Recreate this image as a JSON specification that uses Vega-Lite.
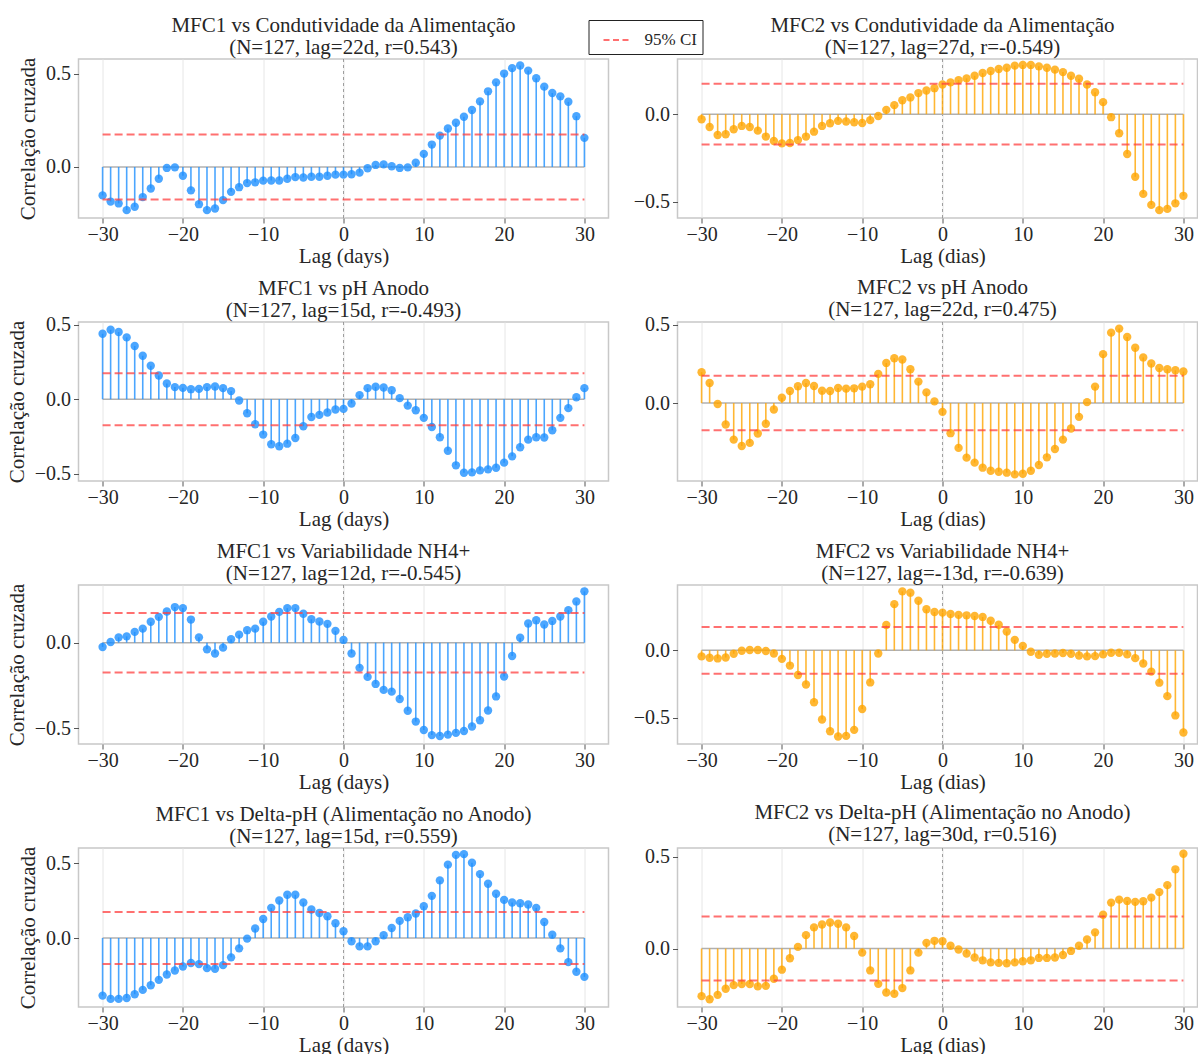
{
  "$schema": "https://vega.github.io/schema/vega-lite/v6.json",
  "padding": {"left": 4.5, "top": 14, "right": 0, "bottom": 0},
  "background": "white",
  "config": {
    "font": "Liberation Serif",
    "view": {"stroke": "#c8c8c8", "strokeWidth": 1.5},
    "axis": {
      "domain": false,
      "labelFont": "Liberation Serif",
      "labelFontSize": 20,
      "labelColor": "#262626",
      "titleFont": "Liberation Serif",
      "titleFontSize": 21,
      "titleFontWeight": "normal",
      "titleColor": "#262626",
      "tickColor": "#555555",
      "tickSize": 5,
      "grid": false
    },
    "axisX": {"grid": true, "gridColor": "#e6e6e6", "gridWidth": 1, "labelPadding": 1, "titlePadding": 1},
    "axisY": {"labelPadding": 3, "titlePadding": 7},
    "title": {"font": "Liberation Serif", "fontSize": 21, "fontWeight": "normal", "color": "#262626", "anchor": "middle", "offset": 0, "lineHeight": 22}
  },
  "datasets": {
    "base": [{"lo": -30, "hi": 30}],
    "bounds": [{"ci": 0.1739}, {"ci": -0.1739}],
    "ccf": [
      {"lag": -30, "mfc1_cond": -0.152, "mfc2_cond": -0.029, "mfc1_ph": 0.438, "mfc2_ph": 0.197, "mfc1_nh4": -0.025, "mfc2_nh4": -0.045, "mfc1_dph": -0.384, "mfc2_dph": -0.259},
      {"lag": -29, "mfc1_cond": -0.185, "mfc2_cond": -0.073, "mfc1_ph": 0.465, "mfc2_ph": 0.128, "mfc1_nh4": 0.004, "mfc2_nh4": -0.055, "mfc1_dph": -0.406, "mfc2_dph": -0.276},
      {"lag": -28, "mfc1_cond": -0.195, "mfc2_cond": -0.119, "mfc1_ph": 0.450, "mfc2_ph": -0.006, "mfc1_nh4": 0.031, "mfc2_nh4": -0.060, "mfc1_dph": -0.406, "mfc2_dph": -0.252},
      {"lag": -27, "mfc1_cond": -0.231, "mfc2_cond": -0.115, "mfc1_ph": 0.414, "mfc2_ph": -0.137, "mfc1_nh4": 0.037, "mfc2_nh4": -0.053, "mfc1_dph": -0.400, "mfc2_dph": -0.219},
      {"lag": -26, "mfc1_cond": -0.213, "mfc2_cond": -0.086, "mfc1_ph": 0.356, "mfc2_ph": -0.233, "mfc1_nh4": 0.063, "mfc2_nh4": -0.025, "mfc1_dph": -0.375, "mfc2_dph": -0.199},
      {"lag": -25, "mfc1_cond": -0.161, "mfc2_cond": -0.067, "mfc1_ph": 0.291, "mfc2_ph": -0.274, "mfc1_nh4": 0.082, "mfc2_nh4": -0.003, "mfc1_dph": -0.346, "mfc2_dph": -0.193},
      {"lag": -24, "mfc1_cond": -0.115, "mfc2_cond": -0.073, "mfc1_ph": 0.224, "mfc2_ph": -0.254, "mfc1_nh4": 0.122, "mfc2_nh4": 0.003, "mfc1_dph": -0.315, "mfc2_dph": -0.193},
      {"lag": -23, "mfc1_cond": -0.063, "mfc2_cond": -0.094, "mfc1_ph": 0.159, "mfc2_ph": -0.194, "mfc1_nh4": 0.151, "mfc2_nh4": 0.003, "mfc1_dph": -0.279, "mfc2_dph": -0.206},
      {"lag": -22, "mfc1_cond": -0.005, "mfc2_cond": -0.128, "mfc1_ph": 0.105, "mfc2_ph": -0.132, "mfc1_nh4": 0.182, "mfc2_nh4": -0.005, "mfc1_dph": -0.243, "mfc2_dph": -0.203},
      {"lag": -21, "mfc1_cond": -0.002, "mfc2_cond": -0.153, "mfc1_ph": 0.081, "mfc2_ph": -0.041, "mfc1_nh4": 0.208, "mfc2_nh4": -0.023, "mfc1_dph": -0.217, "mfc2_dph": -0.164},
      {"lag": -20, "mfc1_cond": -0.047, "mfc2_cond": -0.167, "mfc1_ph": 0.076, "mfc2_ph": 0.034, "mfc1_nh4": 0.202, "mfc2_nh4": -0.063, "mfc1_dph": -0.190, "mfc2_dph": -0.115},
      {"lag": -19, "mfc1_cond": -0.125, "mfc2_cond": -0.165, "mfc1_ph": 0.067, "mfc2_ph": 0.077, "mfc1_nh4": 0.135, "mfc2_nh4": -0.113, "mfc1_dph": -0.167, "mfc2_dph": -0.053},
      {"lag": -18, "mfc1_cond": -0.199, "mfc2_cond": -0.148, "mfc1_ph": 0.069, "mfc2_ph": 0.107, "mfc1_nh4": 0.031, "mfc2_nh4": -0.183, "mfc1_dph": -0.174, "mfc2_dph": 0.009},
      {"lag": -17, "mfc1_cond": -0.231, "mfc2_cond": -0.128, "mfc1_ph": 0.081, "mfc2_ph": 0.128, "mfc1_nh4": -0.039, "mfc2_nh4": -0.253, "mfc1_dph": -0.201, "mfc2_dph": 0.073},
      {"lag": -16, "mfc1_cond": -0.222, "mfc2_cond": -0.100, "mfc1_ph": 0.085, "mfc2_ph": 0.109, "mfc1_nh4": -0.063, "mfc2_nh4": -0.385, "mfc1_dph": -0.205, "mfc2_dph": 0.115},
      {"lag": -15, "mfc1_cond": -0.177, "mfc2_cond": -0.067, "mfc1_ph": 0.074, "mfc2_ph": 0.079, "mfc1_nh4": -0.029, "mfc2_nh4": -0.513, "mfc1_dph": -0.181, "mfc2_dph": 0.131},
      {"lag": -14, "mfc1_cond": -0.133, "mfc2_cond": -0.052, "mfc1_ph": 0.054, "mfc2_ph": 0.077, "mfc1_nh4": 0.020, "mfc2_nh4": -0.600, "mfc1_dph": -0.129, "mfc2_dph": 0.142},
      {"lag": -13, "mfc1_cond": -0.108, "mfc2_cond": -0.038, "mfc1_ph": -0.009, "mfc2_ph": 0.096, "mfc1_nh4": 0.047, "mfc2_nh4": -0.639, "mfc1_dph": -0.069, "mfc2_dph": 0.135},
      {"lag": -12, "mfc1_cond": -0.086, "mfc2_cond": -0.042, "mfc1_ph": -0.094, "mfc2_ph": 0.092, "mfc1_nh4": 0.073, "mfc2_nh4": -0.635, "mfc1_dph": -0.004, "mfc2_dph": 0.115},
      {"lag": -11, "mfc1_cond": -0.082, "mfc2_cond": -0.046, "mfc1_ph": -0.168, "mfc2_ph": 0.094, "mfc1_nh4": 0.082, "mfc2_nh4": -0.590, "mfc1_dph": 0.063, "mfc2_dph": 0.068},
      {"lag": -10, "mfc1_cond": -0.073, "mfc2_cond": -0.050, "mfc1_ph": -0.237, "mfc2_ph": 0.105, "mfc1_nh4": 0.122, "mfc2_nh4": -0.435, "mfc1_dph": 0.127, "mfc2_dph": -0.022},
      {"lag": -9, "mfc1_cond": -0.072, "mfc2_cond": -0.034, "mfc1_ph": -0.302, "mfc2_ph": 0.120, "mfc1_nh4": 0.153, "mfc2_nh4": -0.238, "mfc1_dph": 0.201, "mfc2_dph": -0.119},
      {"lag": -8, "mfc1_cond": -0.072, "mfc2_cond": -0.010, "mfc1_ph": -0.315, "mfc2_ph": 0.186, "mfc1_nh4": 0.180, "mfc2_nh4": -0.023, "mfc1_dph": 0.250, "mfc2_dph": -0.192},
      {"lag": -7, "mfc1_cond": -0.063, "mfc2_cond": 0.025, "mfc1_ph": -0.298, "mfc2_ph": 0.256, "mfc1_nh4": 0.202, "mfc2_nh4": 0.188, "mfc1_dph": 0.288, "mfc2_dph": -0.239},
      {"lag": -6, "mfc1_cond": -0.054, "mfc2_cond": 0.052, "mfc1_ph": -0.260, "mfc2_ph": 0.286, "mfc1_nh4": 0.202, "mfc2_nh4": 0.343, "mfc1_dph": 0.288, "mfc2_dph": -0.246},
      {"lag": -5, "mfc1_cond": -0.056, "mfc2_cond": 0.080, "mfc1_ph": -0.181, "mfc2_ph": 0.278, "mfc1_nh4": 0.169, "mfc2_nh4": 0.438, "mfc1_dph": 0.237, "mfc2_dph": -0.215},
      {"lag": -4, "mfc1_cond": -0.052, "mfc2_cond": 0.096, "mfc1_ph": -0.119, "mfc2_ph": 0.216, "mfc1_nh4": 0.137, "mfc2_nh4": 0.428, "mfc1_dph": 0.190, "mfc2_dph": -0.119},
      {"lag": -3, "mfc1_cond": -0.052, "mfc2_cond": 0.121, "mfc1_ph": -0.105, "mfc2_ph": 0.137, "mfc1_nh4": 0.124, "mfc2_nh4": 0.368, "mfc1_dph": 0.167, "mfc2_dph": -0.022},
      {"lag": -2, "mfc1_cond": -0.047, "mfc2_cond": 0.136, "mfc1_ph": -0.089, "mfc2_ph": 0.068, "mfc1_nh4": 0.110, "mfc2_nh4": 0.305, "mfc1_dph": 0.145, "mfc2_dph": 0.031},
      {"lag": -1, "mfc1_cond": -0.041, "mfc2_cond": 0.149, "mfc1_ph": -0.069, "mfc2_ph": 0.011, "mfc1_nh4": 0.069, "mfc2_nh4": 0.285, "mfc1_dph": 0.098, "mfc2_dph": 0.042},
      {"lag": 0, "mfc1_cond": -0.041, "mfc2_cond": 0.170, "mfc1_ph": -0.065, "mfc2_ph": -0.056, "mfc1_nh4": 0.016, "mfc2_nh4": 0.280, "mfc1_dph": 0.045, "mfc2_dph": 0.040},
      {"lag": 1, "mfc1_cond": -0.039, "mfc2_cond": 0.182, "mfc1_ph": -0.029, "mfc2_ph": -0.192, "mfc1_nh4": -0.063, "mfc2_nh4": 0.270, "mfc1_dph": -0.022, "mfc2_dph": 0.015},
      {"lag": 2, "mfc1_cond": -0.030, "mfc2_cond": 0.195, "mfc1_ph": 0.027, "mfc2_ph": -0.286, "mfc1_nh4": -0.147, "mfc2_nh4": 0.263, "mfc1_dph": -0.056, "mfc2_dph": -0.005},
      {"lag": 3, "mfc1_cond": -0.007, "mfc2_cond": 0.205, "mfc1_ph": 0.074, "mfc2_ph": -0.348, "mfc1_nh4": -0.200, "mfc2_nh4": 0.260, "mfc1_dph": -0.056, "mfc2_dph": -0.027},
      {"lag": 4, "mfc1_cond": 0.011, "mfc2_cond": 0.220, "mfc1_ph": 0.083, "mfc2_ph": -0.380, "mfc1_nh4": -0.241, "mfc2_nh4": 0.255, "mfc1_dph": -0.022, "mfc2_dph": -0.049},
      {"lag": 5, "mfc1_cond": 0.014, "mfc2_cond": 0.236, "mfc1_ph": 0.078, "mfc2_ph": -0.412, "mfc1_nh4": -0.276, "mfc2_nh4": 0.248, "mfc1_dph": 0.018, "mfc2_dph": -0.064},
      {"lag": 6, "mfc1_cond": 0.004, "mfc2_cond": 0.247, "mfc1_ph": 0.060, "mfc2_ph": -0.432, "mfc1_nh4": -0.286, "mfc2_nh4": 0.220, "mfc1_dph": 0.067, "mfc2_dph": -0.075},
      {"lag": 7, "mfc1_cond": -0.005, "mfc2_cond": 0.259, "mfc1_ph": 0.007, "mfc2_ph": -0.438, "mfc1_nh4": -0.329, "mfc2_nh4": 0.190, "mfc1_dph": 0.114, "mfc2_dph": -0.078},
      {"lag": 8, "mfc1_cond": -0.002, "mfc2_cond": 0.266, "mfc1_ph": -0.043, "mfc2_ph": -0.444, "mfc1_nh4": -0.398, "mfc2_nh4": 0.140, "mfc1_dph": 0.138, "mfc2_dph": -0.080},
      {"lag": 9, "mfc1_cond": 0.023, "mfc2_cond": 0.278, "mfc1_ph": -0.074, "mfc2_ph": -0.455, "mfc1_nh4": -0.461, "mfc2_nh4": 0.078, "mfc1_dph": 0.163, "mfc2_dph": -0.075},
      {"lag": 10, "mfc1_cond": 0.070, "mfc2_cond": 0.282, "mfc1_ph": -0.125, "mfc2_ph": -0.451, "mfc1_nh4": -0.510, "mfc2_nh4": 0.033, "mfc1_dph": 0.212, "mfc2_dph": -0.069},
      {"lag": 11, "mfc1_cond": 0.120, "mfc2_cond": 0.282, "mfc1_ph": -0.186, "mfc2_ph": -0.432, "mfc1_nh4": -0.540, "mfc2_nh4": -0.010, "mfc1_dph": 0.281, "mfc2_dph": -0.064},
      {"lag": 12, "mfc1_cond": 0.168, "mfc2_cond": 0.274, "mfc1_ph": -0.255, "mfc2_ph": -0.395, "mfc1_nh4": -0.545, "mfc2_nh4": -0.033, "mfc1_dph": 0.384, "mfc2_dph": -0.051},
      {"lag": 13, "mfc1_cond": 0.206, "mfc2_cond": 0.266, "mfc1_ph": -0.345, "mfc2_ph": -0.346, "mfc1_nh4": -0.537, "mfc2_nh4": -0.025, "mfc1_dph": 0.489, "mfc2_dph": -0.051},
      {"lag": 14, "mfc1_cond": 0.237, "mfc2_cond": 0.255, "mfc1_ph": -0.443, "mfc2_ph": -0.293, "mfc1_nh4": -0.527, "mfc2_nh4": -0.023, "mfc1_dph": 0.554, "mfc2_dph": -0.049},
      {"lag": 15, "mfc1_cond": 0.269, "mfc2_cond": 0.241, "mfc1_ph": -0.493, "mfc2_ph": -0.233, "mfc1_nh4": -0.516, "mfc2_nh4": -0.020, "mfc1_dph": 0.559, "mfc2_dph": -0.035},
      {"lag": 16, "mfc1_cond": 0.305, "mfc2_cond": 0.220, "mfc1_ph": -0.490, "mfc2_ph": -0.162, "mfc1_nh4": -0.490, "mfc2_nh4": -0.025, "mfc1_dph": 0.502, "mfc2_dph": -0.013},
      {"lag": 17, "mfc1_cond": 0.351, "mfc2_cond": 0.203, "mfc1_ph": -0.477, "mfc2_ph": -0.088, "mfc1_nh4": -0.453, "mfc2_nh4": -0.038, "mfc1_dph": 0.426, "mfc2_dph": 0.015},
      {"lag": 18, "mfc1_cond": 0.405, "mfc2_cond": 0.170, "mfc1_ph": -0.470, "mfc2_ph": 0.006, "mfc1_nh4": -0.396, "mfc2_nh4": -0.045, "mfc1_dph": 0.362, "mfc2_dph": 0.049},
      {"lag": 19, "mfc1_cond": 0.453, "mfc2_cond": 0.126, "mfc1_ph": -0.459, "mfc2_ph": 0.105, "mfc1_nh4": -0.314, "mfc2_nh4": -0.043, "mfc1_dph": 0.295, "mfc2_dph": 0.088},
      {"lag": 20, "mfc1_cond": 0.500, "mfc2_cond": 0.069, "mfc1_ph": -0.425, "mfc2_ph": 0.312, "mfc1_nh4": -0.198, "mfc2_nh4": -0.030, "mfc1_dph": 0.254, "mfc2_dph": 0.184},
      {"lag": 21, "mfc1_cond": 0.529, "mfc2_cond": -0.017, "mfc1_ph": -0.383, "mfc2_ph": 0.449, "mfc1_nh4": -0.078, "mfc2_nh4": -0.018, "mfc1_dph": 0.237, "mfc2_dph": 0.250},
      {"lag": 22, "mfc1_cond": 0.543, "mfc2_cond": -0.109, "mfc1_ph": -0.322, "mfc2_ph": 0.475, "mfc1_nh4": 0.029, "mfc2_nh4": -0.018, "mfc1_dph": 0.232, "mfc2_dph": 0.266},
      {"lag": 23, "mfc1_cond": 0.516, "mfc2_cond": -0.228, "mfc1_ph": -0.271, "mfc2_ph": 0.421, "mfc1_nh4": 0.112, "mfc2_nh4": -0.030, "mfc1_dph": 0.223, "mfc2_dph": 0.259},
      {"lag": 24, "mfc1_cond": 0.475, "mfc2_cond": -0.358, "mfc1_ph": -0.255, "mfc2_ph": 0.353, "mfc1_nh4": 0.131, "mfc2_nh4": -0.058, "mfc1_dph": 0.201, "mfc2_dph": 0.254},
      {"lag": 25, "mfc1_cond": 0.430, "mfc2_cond": -0.456, "mfc1_ph": -0.257, "mfc2_ph": 0.291, "mfc1_nh4": 0.106, "mfc2_nh4": -0.098, "mfc1_dph": 0.107, "mfc2_dph": 0.257},
      {"lag": 26, "mfc1_cond": 0.396, "mfc2_cond": -0.519, "mfc1_ph": -0.208, "mfc2_ph": 0.252, "mfc1_nh4": 0.127, "mfc2_nh4": -0.158, "mfc1_dph": 0.022, "mfc2_dph": 0.277},
      {"lag": 27, "mfc1_cond": 0.378, "mfc2_cond": -0.549, "mfc1_ph": -0.125, "mfc2_ph": 0.224, "mfc1_nh4": 0.153, "mfc2_nh4": -0.240, "mfc1_dph": -0.069, "mfc2_dph": 0.307},
      {"lag": 28, "mfc1_cond": 0.349, "mfc2_cond": -0.542, "mfc1_ph": -0.060, "mfc2_ph": 0.216, "mfc1_nh4": 0.190, "mfc2_nh4": -0.340, "mfc1_dph": -0.161, "mfc2_dph": 0.345},
      {"lag": 29, "mfc1_cond": 0.272, "mfc2_cond": -0.510, "mfc1_ph": 0.013, "mfc2_ph": 0.209, "mfc1_nh4": 0.241, "mfc2_nh4": -0.483, "mfc1_dph": -0.225, "mfc2_dph": 0.431},
      {"lag": 30, "mfc1_cond": 0.156, "mfc2_cond": -0.467, "mfc1_ph": 0.074, "mfc2_ph": 0.201, "mfc1_nh4": 0.300, "mfc2_nh4": -0.610, "mfc1_dph": -0.259, "mfc2_dph": 0.516}
    ]
  },
  "columns": 2,
  "bounds": "flush",
  "spacing": {"row": 104, "column": 69},
  "concat": [
    {
      "width": 530, "height": 159,
      "title": {"text": ["MFC1 vs Condutividade da Alimentação", "(N=127, lag=22d, r=0.543)"], "offset": -0.75},
      "layer": [
        {"data": {"name": "base"}, "mark": {"type": "rule", "color": "#888888", "strokeDash": [3, 3], "strokeWidth": 1, "opacity": 0.8}, "encoding": {"x": {"datum": 0, "type": "quantitative"}}},
        {"data": {"name": "base"}, "mark": {"type": "rule", "color": "#b0b0b0", "strokeWidth": 1.5}, "encoding": {"x": {"field": "lo", "type": "quantitative"}, "x2": {"field": "hi"}, "y": {"datum": 0, "type": "quantitative"}}},
        {"data": {"name": "ccf"}, "mark": {"type": "rule", "color": "#1E90FF", "opacity": 0.8, "strokeWidth": 1.6},
         "encoding": {
           "x": {"field": "lag", "type": "quantitative", "scale": {"domain": [-33, 33], "nice": false, "zero": false}, "axis": {"title": "Lag (days)", "values": [-30, -20, -10, 0, 10, 20, 30], "format": "d"}},
           "y": {"field": "mfc1_cond", "type": "quantitative", "scale": {"domain": [-0.273, 0.578], "nice": false, "zero": false}, "axis": {"title": "Correlação cruzada", "values": [-0.5, 0, 0.5], "format": ".1f"}},
           "y2": {"datum": 0}}},
        {"data": {"name": "ccf"}, "mark": {"type": "circle", "color": "#1E90FF", "opacity": 0.8, "size": 70}, "encoding": {"x": {"field": "lag", "type": "quantitative"}, "y": {"field": "mfc1_cond", "type": "quantitative"}}},
        {"data": {"name": "bounds"}, "mark": {"type": "rule", "opacity": 0.75, "strokeWidth": 2, "strokeDash": [8, 4]},
         "encoding": {
           "x": {"datum": -30, "type": "quantitative"}, "x2": {"datum": 30},
           "y": {"field": "ci", "type": "quantitative"},
           "color": {"datum": "95% CI", "type": "nominal", "scale": {"range": ["#ff4040"]},
             "legend": {"title": null, "orient": "none", "legendX": 510, "legendY": -39, "strokeColor": "#222222", "fillColor": "white", "padding": 5.5, "cornerRadius": 0, "symbolType": "stroke", "symbolStrokeWidth": 2, "symbolDash": [6, 3.5], "symbolSize": 729, "symbolOpacity": 0.75, "symbolOffset": 8.5, "labelFont": "Liberation Serif", "labelFontSize": 17, "labelColor": "#262626", "labelOffset": 13}}}}
      ]
    },
    {
      "width": 520, "height": 159,
      "title": {"text": ["MFC2 vs Condutividade da Alimentação", "(N=127, lag=27d, r=-0.549)"], "dx": 5, "offset": 0.05},
      "layer": [
        {"data": {"name": "base"}, "mark": {"type": "rule", "color": "#888888", "strokeDash": [3, 3], "strokeWidth": 1, "opacity": 0.8}, "encoding": {"x": {"datum": 0, "type": "quantitative"}}},
        {"data": {"name": "base"}, "mark": {"type": "rule", "color": "#b0b0b0", "strokeWidth": 1.5}, "encoding": {"x": {"field": "lo", "type": "quantitative"}, "x2": {"field": "hi"}, "y": {"datum": 0, "type": "quantitative"}}},
        {"data": {"name": "ccf"}, "mark": {"type": "rule", "color": "#FFA500", "opacity": 0.8, "strokeWidth": 1.6},
         "encoding": {
           "x": {"field": "lag", "type": "quantitative", "scale": {"domain": [-33, 31.755], "nice": false, "zero": false}, "axis": {"title": "Lag (dias)", "titleX": 265, "values": [-30, -20, -10, 0, 10, 20, 30], "format": "d"}},
           "y": {"field": "mfc2_cond", "type": "quantitative", "scale": {"domain": [-0.594, 0.316], "nice": false, "zero": false}, "axis": {"title": null, "values": [-0.5, 0, 0.5], "format": ".1f"}},
           "y2": {"datum": 0}}},
        {"data": {"name": "ccf"}, "mark": {"type": "circle", "color": "#FFA500", "opacity": 0.8, "size": 70}, "encoding": {"x": {"field": "lag", "type": "quantitative"}, "y": {"field": "mfc2_cond", "type": "quantitative"}}},
        {"data": {"name": "bounds"}, "mark": {"type": "rule", "color": "#ff4040", "opacity": 0.75, "strokeWidth": 2, "strokeDash": [8, 4]}, "encoding": {"x": {"datum": -30, "type": "quantitative"}, "x2": {"datum": 30}, "y": {"field": "ci", "type": "quantitative"}}}
      ]
    },
    {
      "width": 530, "height": 159,
      "title": {"text": ["MFC1 vs pH Anodo", "(N=127, lag=15d, r=-0.493)"], "offset": -6.1},
      "layer": [
        {"data": {"name": "base"}, "mark": {"type": "rule", "color": "#888888", "strokeDash": [3, 3], "strokeWidth": 1, "opacity": 0.8}, "encoding": {"x": {"datum": 0, "type": "quantitative"}}},
        {"data": {"name": "base"}, "mark": {"type": "rule", "color": "#b0b0b0", "strokeWidth": 1.5}, "encoding": {"x": {"field": "lo", "type": "quantitative"}, "x2": {"field": "hi"}, "y": {"datum": 0, "type": "quantitative"}}},
        {"data": {"name": "ccf"}, "mark": {"type": "rule", "color": "#1E90FF", "opacity": 0.8, "strokeWidth": 1.6},
         "encoding": {
           "x": {"field": "lag", "type": "quantitative", "scale": {"domain": [-33, 33], "nice": false, "zero": false}, "axis": {"title": "Lag (days)", "values": [-30, -20, -10, 0, 10, 20, 30], "format": "d"}},
           "y": {"field": "mfc1_ph", "type": "quantitative", "scale": {"domain": [-0.548, 0.517], "nice": false, "zero": false}, "axis": {"title": "Correlação cruzada", "values": [-0.5, 0, 0.5], "format": ".1f"}},
           "y2": {"datum": 0}}},
        {"data": {"name": "ccf"}, "mark": {"type": "circle", "color": "#1E90FF", "opacity": 0.8, "size": 70}, "encoding": {"x": {"field": "lag", "type": "quantitative"}, "y": {"field": "mfc1_ph", "type": "quantitative"}}},
        {"data": {"name": "bounds"}, "mark": {"type": "rule", "color": "#ff4040", "opacity": 0.75, "strokeWidth": 2, "strokeDash": [8, 4]}, "encoding": {"x": {"datum": -30, "type": "quantitative"}, "x2": {"datum": 30}, "y": {"field": "ci", "type": "quantitative"}}}
      ]
    },
    {
      "width": 520, "height": 159,
      "title": {"text": ["MFC2 vs pH Anodo", "(N=127, lag=22d, r=0.475)"], "dx": 5, "offset": -5.4},
      "layer": [
        {"data": {"name": "base"}, "mark": {"type": "rule", "color": "#888888", "strokeDash": [3, 3], "strokeWidth": 1, "opacity": 0.8}, "encoding": {"x": {"datum": 0, "type": "quantitative"}}},
        {"data": {"name": "base"}, "mark": {"type": "rule", "color": "#b0b0b0", "strokeWidth": 1.5}, "encoding": {"x": {"field": "lo", "type": "quantitative"}, "x2": {"field": "hi"}, "y": {"datum": 0, "type": "quantitative"}}},
        {"data": {"name": "ccf"}, "mark": {"type": "rule", "color": "#FFA500", "opacity": 0.8, "strokeWidth": 1.6},
         "encoding": {
           "x": {"field": "lag", "type": "quantitative", "scale": {"domain": [-33, 31.755], "nice": false, "zero": false}, "axis": {"title": "Lag (dias)", "titleX": 265, "values": [-30, -20, -10, 0, 10, 20, 30], "format": "d"}},
           "y": {"field": "mfc2_ph", "type": "quantitative", "scale": {"domain": [-0.497, 0.517], "nice": false, "zero": false}, "axis": {"title": null, "values": [-0.5, 0, 0.5], "format": ".1f"}},
           "y2": {"datum": 0}}},
        {"data": {"name": "ccf"}, "mark": {"type": "circle", "color": "#FFA500", "opacity": 0.8, "size": 70}, "encoding": {"x": {"field": "lag", "type": "quantitative"}, "y": {"field": "mfc2_ph", "type": "quantitative"}}},
        {"data": {"name": "bounds"}, "mark": {"type": "rule", "color": "#ff4040", "opacity": 0.75, "strokeWidth": 2, "strokeDash": [8, 4]}, "encoding": {"x": {"datum": -30, "type": "quantitative"}, "x2": {"datum": 30}, "y": {"field": "ci", "type": "quantitative"}}}
      ]
    },
    {
      "width": 530, "height": 159,
      "title": {"text": ["MFC1 vs Variabilidade NH4+", "(N=127, lag=12d, r=-0.545)"], "offset": -0.7},
      "layer": [
        {"data": {"name": "base"}, "mark": {"type": "rule", "color": "#888888", "strokeDash": [3, 3], "strokeWidth": 1, "opacity": 0.8}, "encoding": {"x": {"datum": 0, "type": "quantitative"}}},
        {"data": {"name": "base"}, "mark": {"type": "rule", "color": "#b0b0b0", "strokeWidth": 1.5}, "encoding": {"x": {"field": "lo", "type": "quantitative"}, "x2": {"field": "hi"}, "y": {"datum": 0, "type": "quantitative"}}},
        {"data": {"name": "ccf"}, "mark": {"type": "rule", "color": "#1E90FF", "opacity": 0.8, "strokeWidth": 1.6},
         "encoding": {
           "x": {"field": "lag", "type": "quantitative", "scale": {"domain": [-33, 33], "nice": false, "zero": false}, "axis": {"title": "Lag (days)", "values": [-30, -20, -10, 0, 10, 20, 30], "format": "d"}},
           "y": {"field": "mfc1_nh4", "type": "quantitative", "scale": {"domain": [-0.592, 0.337], "nice": false, "zero": false}, "axis": {"title": "Correlação cruzada", "values": [-0.5, 0, 0.5], "format": ".1f"}},
           "y2": {"datum": 0}}},
        {"data": {"name": "ccf"}, "mark": {"type": "circle", "color": "#1E90FF", "opacity": 0.8, "size": 70}, "encoding": {"x": {"field": "lag", "type": "quantitative"}, "y": {"field": "mfc1_nh4", "type": "quantitative"}}},
        {"data": {"name": "bounds"}, "mark": {"type": "rule", "color": "#ff4040", "opacity": 0.75, "strokeWidth": 2, "strokeDash": [8, 4]}, "encoding": {"x": {"datum": -30, "type": "quantitative"}, "x2": {"datum": 30}, "y": {"field": "ci", "type": "quantitative"}}}
      ]
    },
    {
      "width": 520, "height": 159,
      "title": {"text": ["MFC2 vs Variabilidade NH4+", "(N=127, lag=-13d, r=-0.639)"], "dx": 5, "offset": 0.95},
      "layer": [
        {"data": {"name": "base"}, "mark": {"type": "rule", "color": "#888888", "strokeDash": [3, 3], "strokeWidth": 1, "opacity": 0.8}, "encoding": {"x": {"datum": 0, "type": "quantitative"}}},
        {"data": {"name": "base"}, "mark": {"type": "rule", "color": "#b0b0b0", "strokeWidth": 1.5}, "encoding": {"x": {"field": "lo", "type": "quantitative"}, "x2": {"field": "hi"}, "y": {"datum": 0, "type": "quantitative"}}},
        {"data": {"name": "ccf"}, "mark": {"type": "rule", "color": "#FFA500", "opacity": 0.8, "strokeWidth": 1.6},
         "encoding": {
           "x": {"field": "lag", "type": "quantitative", "scale": {"domain": [-33, 31.755], "nice": false, "zero": false}, "axis": {"title": "Lag (dias)", "titleX": 265, "values": [-30, -20, -10, 0, 10, 20, 30], "format": "d"}},
           "y": {"field": "mfc2_nh4", "type": "quantitative", "scale": {"domain": [-0.695, 0.485], "nice": false, "zero": false}, "axis": {"title": null, "values": [-0.5, 0, 0.5], "format": ".1f"}},
           "y2": {"datum": 0}}},
        {"data": {"name": "ccf"}, "mark": {"type": "circle", "color": "#FFA500", "opacity": 0.8, "size": 70}, "encoding": {"x": {"field": "lag", "type": "quantitative"}, "y": {"field": "mfc2_nh4", "type": "quantitative"}}},
        {"data": {"name": "bounds"}, "mark": {"type": "rule", "color": "#ff4040", "opacity": 0.75, "strokeWidth": 2, "strokeDash": [8, 4]}, "encoding": {"x": {"datum": -30, "type": "quantitative"}, "x2": {"datum": 30}, "y": {"field": "ci", "type": "quantitative"}}}
      ]
    },
    {
      "width": 530, "height": 159,
      "title": {"text": ["MFC1 vs Delta-pH (Alimentação no Anodo)", "(N=127, lag=15d, r=0.559)"], "offset": -1.05},
      "layer": [
        {"data": {"name": "base"}, "mark": {"type": "rule", "color": "#888888", "strokeDash": [3, 3], "strokeWidth": 1, "opacity": 0.8}, "encoding": {"x": {"datum": 0, "type": "quantitative"}}},
        {"data": {"name": "base"}, "mark": {"type": "rule", "color": "#b0b0b0", "strokeWidth": 1.5}, "encoding": {"x": {"field": "lo", "type": "quantitative"}, "x2": {"field": "hi"}, "y": {"datum": 0, "type": "quantitative"}}},
        {"data": {"name": "ccf"}, "mark": {"type": "rule", "color": "#1E90FF", "opacity": 0.8, "strokeWidth": 1.6},
         "encoding": {
           "x": {"field": "lag", "type": "quantitative", "scale": {"domain": [-33, 33], "nice": false, "zero": false}, "axis": {"title": "Lag (days)", "values": [-30, -20, -10, 0, 10, 20, 30], "format": "d"}},
           "y": {"field": "mfc1_dph", "type": "quantitative", "scale": {"domain": [-0.46, 0.6], "nice": false, "zero": false}, "axis": {"title": "Correlação cruzada", "values": [-0.5, 0, 0.5], "format": ".1f"}},
           "y2": {"datum": 0}}},
        {"data": {"name": "ccf"}, "mark": {"type": "circle", "color": "#1E90FF", "opacity": 0.8, "size": 70}, "encoding": {"x": {"field": "lag", "type": "quantitative"}, "y": {"field": "mfc1_dph", "type": "quantitative"}}},
        {"data": {"name": "bounds"}, "mark": {"type": "rule", "color": "#ff4040", "opacity": 0.75, "strokeWidth": 2, "strokeDash": [8, 4]}, "encoding": {"x": {"datum": -30, "type": "quantitative"}, "x2": {"datum": 30}, "y": {"field": "ci", "type": "quantitative"}}}
      ]
    },
    {
      "width": 520, "height": 159,
      "title": {"text": ["MFC2 vs Delta-pH (Alimentação no Anodo)", "(N=127, lag=30d, r=0.516)"], "dx": 5, "offset": 1.8},
      "layer": [
        {"data": {"name": "base"}, "mark": {"type": "rule", "color": "#888888", "strokeDash": [3, 3], "strokeWidth": 1, "opacity": 0.8}, "encoding": {"x": {"datum": 0, "type": "quantitative"}}},
        {"data": {"name": "base"}, "mark": {"type": "rule", "color": "#b0b0b0", "strokeWidth": 1.5}, "encoding": {"x": {"field": "lo", "type": "quantitative"}, "x2": {"field": "hi"}, "y": {"datum": 0, "type": "quantitative"}}},
        {"data": {"name": "ccf"}, "mark": {"type": "rule", "color": "#FFA500", "opacity": 0.8, "strokeWidth": 1.6},
         "encoding": {
           "x": {"field": "lag", "type": "quantitative", "scale": {"domain": [-33, 31.755], "nice": false, "zero": false}, "axis": {"title": "Lag (dias)", "titleX": 265, "values": [-30, -20, -10, 0, 10, 20, 30], "format": "d"}},
           "y": {"field": "mfc2_dph", "type": "quantitative", "scale": {"domain": [-0.318, 0.547], "nice": false, "zero": false}, "axis": {"title": null, "values": [-0.5, 0, 0.5], "format": ".1f"}},
           "y2": {"datum": 0}}},
        {"data": {"name": "ccf"}, "mark": {"type": "circle", "color": "#FFA500", "opacity": 0.8, "size": 70}, "encoding": {"x": {"field": "lag", "type": "quantitative"}, "y": {"field": "mfc2_dph", "type": "quantitative"}}},
        {"data": {"name": "bounds"}, "mark": {"type": "rule", "color": "#ff4040", "opacity": 0.75, "strokeWidth": 2, "strokeDash": [8, 4]}, "encoding": {"x": {"datum": -30, "type": "quantitative"}, "x2": {"datum": 30}, "y": {"field": "ci", "type": "quantitative"}}}
      ]
    }
  ]
}
